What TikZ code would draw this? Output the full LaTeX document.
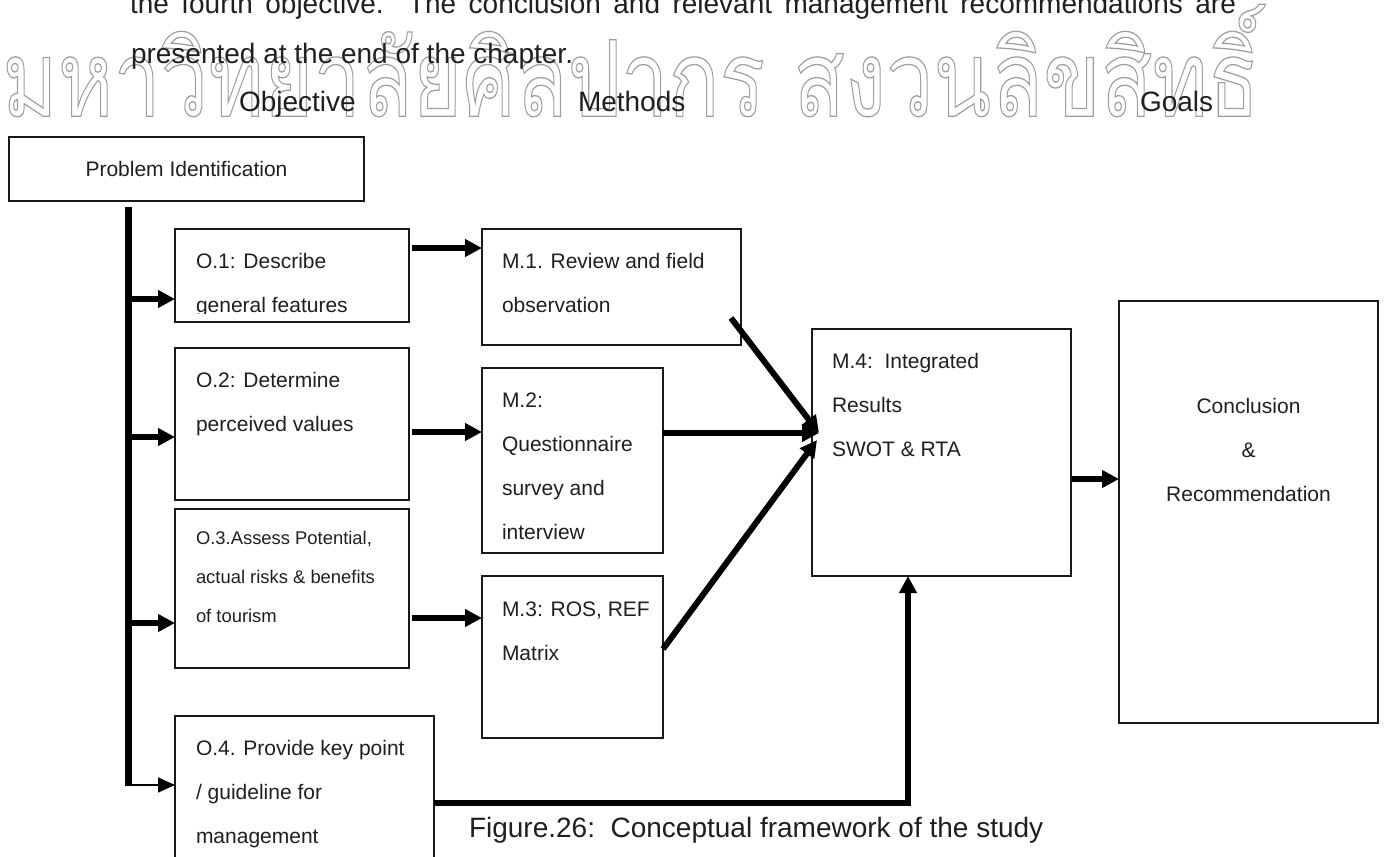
\documentclass[tikz,border=0pt]{standalone}
\usepackage{fontspec}
\setmainfont{Liberation Sans}
\newfontfamily\thaifont[Script=Thai]{Loma}
\usetikzlibrary{arrows.meta,calc}
\newcommand\bodyfont{\fontsize{28}{50}\selectfont}
\newcommand\boxfont{\fontsize{21}{44.3}\selectfont}
\newcommand\smallboxfont{\fontsize{18.4}{39}\selectfont}
% stroked (outline-only) glyphs for the background lettering
\newcommand\outlined[1]{\special{pdf:literal direct 1 Tr 0.12 w}#1\special{pdf:literal direct 0 Tr}}
\begin{document}
\begin{tikzpicture}[x=1pt,y=-1pt,
  box/.style={draw=black!90, line width=1.6pt, inner sep=0pt, outer sep=0pt, anchor=north west},
  txt/.style={inner sep=0pt, outer sep=0pt, anchor=base west, text=black!88},
  ctxt/.style={inner sep=0pt, outer sep=0pt, anchor=base, text=black!88},
  fat/.style={line width=6pt, -{Triangle[length=17pt,width=17pt]}},
  slim/.style={line width=1.6pt, -{Triangle[length=17pt,width=15pt]}}]
\useasboundingbox (0,0) rectangle (1385,857);
\clip (0,0) rectangle (1385,857);

% background lettering
\node[anchor=south west, inner sep=0pt, text=black!38] (wm) at (2,117)
  {\resizebox{1257pt}{112pt}{\outlined{\thaifont มหาวิทยาลัยศิลปากร สงวนลิขสิทธิ์}}};

% running text and column headings
\node[txt] (l1) at (130,13) {\bodyfont\makebox[1106pt][s]{the fourth objective. The conclusion and relevant management recommendations are}};
\node[txt] (l2) at (131,63) {\bodyfont presented at the end of the chapter.};
\node[txt] (hobj) at (239,111) {\bodyfont Objective};
\node[txt] (hmet) at (578,111) {\bodyfont Methods};
\node[txt] (hgoal) at (1140,111) {\bodyfont Goals};

% boxes
\node[box, minimum width=355pt, minimum height=64pt] (pi) at (9,137) {};
\node[box, minimum width=234pt, minimum height=93pt] (o1) at (175,229) {};
\node[box, minimum width=234pt, minimum height=152pt] (o2) at (175,348) {};
\node[box, minimum width=234pt, minimum height=159pt] (o3) at (175,509) {};
\node[box, minimum width=259pt, minimum height=200pt] (o4) at (175,716) {};
\node[box, minimum width=259pt, minimum height=116pt] (m1) at (482,229) {};
\node[box, minimum width=181pt, minimum height=185pt] (m2) at (482,368) {};
\node[box, minimum width=181pt, minimum height=162pt] (m3) at (482,576) {};
\node[box, minimum width=259pt, minimum height=247pt] (m4) at (812,329) {};
\node[box, minimum width=259pt, minimum height=422pt] (cr) at (1119,301) {};

% box texts
\node[ctxt] (pit) at (186.5,176) {\boxfont Problem Identification};
\begin{scope}
  \clip (175,229) rectangle (409,313.5);
  \node[txt] (o1t) at (196,268) {\parbox[t]{210pt}{\boxfont\raggedright O.1: Describe\\general features}};
\end{scope}
\node[txt] (o2t) at (196,387) {\parbox[t]{210pt}{\boxfont\raggedright O.2: Determine\\perceived values}};
\node[txt] (o3t) at (196,544) {\parbox[t]{210pt}{\smallboxfont\raggedright O.3.Assess Potential,\\actual risks \& benefits\\of tourism}};
\node[txt] (o4t) at (196,755) {\parbox[t]{235pt}{\boxfont\raggedright O.4. Provide key point\\/ guideline for\\management}};
\node[txt] (m1t) at (502,268) {\parbox[t]{235pt}{\boxfont\raggedright M.1. Review and field\\observation}};
\node[txt] (m2t) at (502,407) {\parbox[t]{160pt}{\boxfont\raggedright M.2:\\Questionnaire\\survey and\\interview}};
\node[txt] (m3t) at (502,616) {\parbox[t]{160pt}{\boxfont\raggedright M.3: ROS, REF\\Matrix}};
\node[txt] (m4t) at (832,368) {\parbox[t]{235pt}{\boxfont\raggedright M.4:\ \ Integrated\\Results\\SWOT \& RTA}};
\node[ctxt] (crt) at (1248.5,413) {\parbox[t]{240pt}{\boxfont\centering Conclusion\\\&\\Recommendation}};

% caption
\node[txt] (cap) at (469,837) {\bodyfont Figure.26:\ \ Conceptual framework of the study};

% spine from the problem box to the objectives
\coordinate (bartop) at (128,207);
\coordinate (barbot) at (128,786);
\draw[line width=7pt] (bartop) -- (barbot);
\coordinate (j1) at (128,299);
\coordinate (j2) at (128,437);
\coordinate (j3) at (128,623);
\coordinate (j4) at (126,785);
\draw[fat] (j1) -- (j1 -| o1.west);
\draw[fat] (j2) -- (j2 -| o2.west);
\draw[fat] (j3) -- (j3 -| o3.west);
\draw[slim] (j4) -- (j4 -| o4.west);

% objectives to methods
\coordinate (k1) at (412,248);
\coordinate (k2) at (412,432);
\coordinate (k3) at (412,618);
\draw[fat] (k1) -- (k1 -| m1.west);
\draw[fat] (k2) -- (k2 -| m2.west);
\draw[fat] (k3) -- (k3 -| m3.west);

% methods into the integration box
\coordinate (hub) at (819,433);
\coordinate (hub3) at (817,440);
\coordinate (m1out) at (731,318);
\coordinate (m3out) at (663,649);
\draw[fat] (m1out) -- (hub);
\draw[fat] (m2.east |- hub) -- (hub);
\draw[fat] (m3out) -- (hub3);

% guideline path up into the integration box
\coordinate (turn) at (908,803);
\draw[fat] (o4.east |- turn) -- (turn) -- (m4.south -| turn);

% integration to conclusion
\coordinate (r1) at (1072,479);
\draw[fat] (r1) -- (r1 -| cr.west);
\end{tikzpicture}
\end{document}
